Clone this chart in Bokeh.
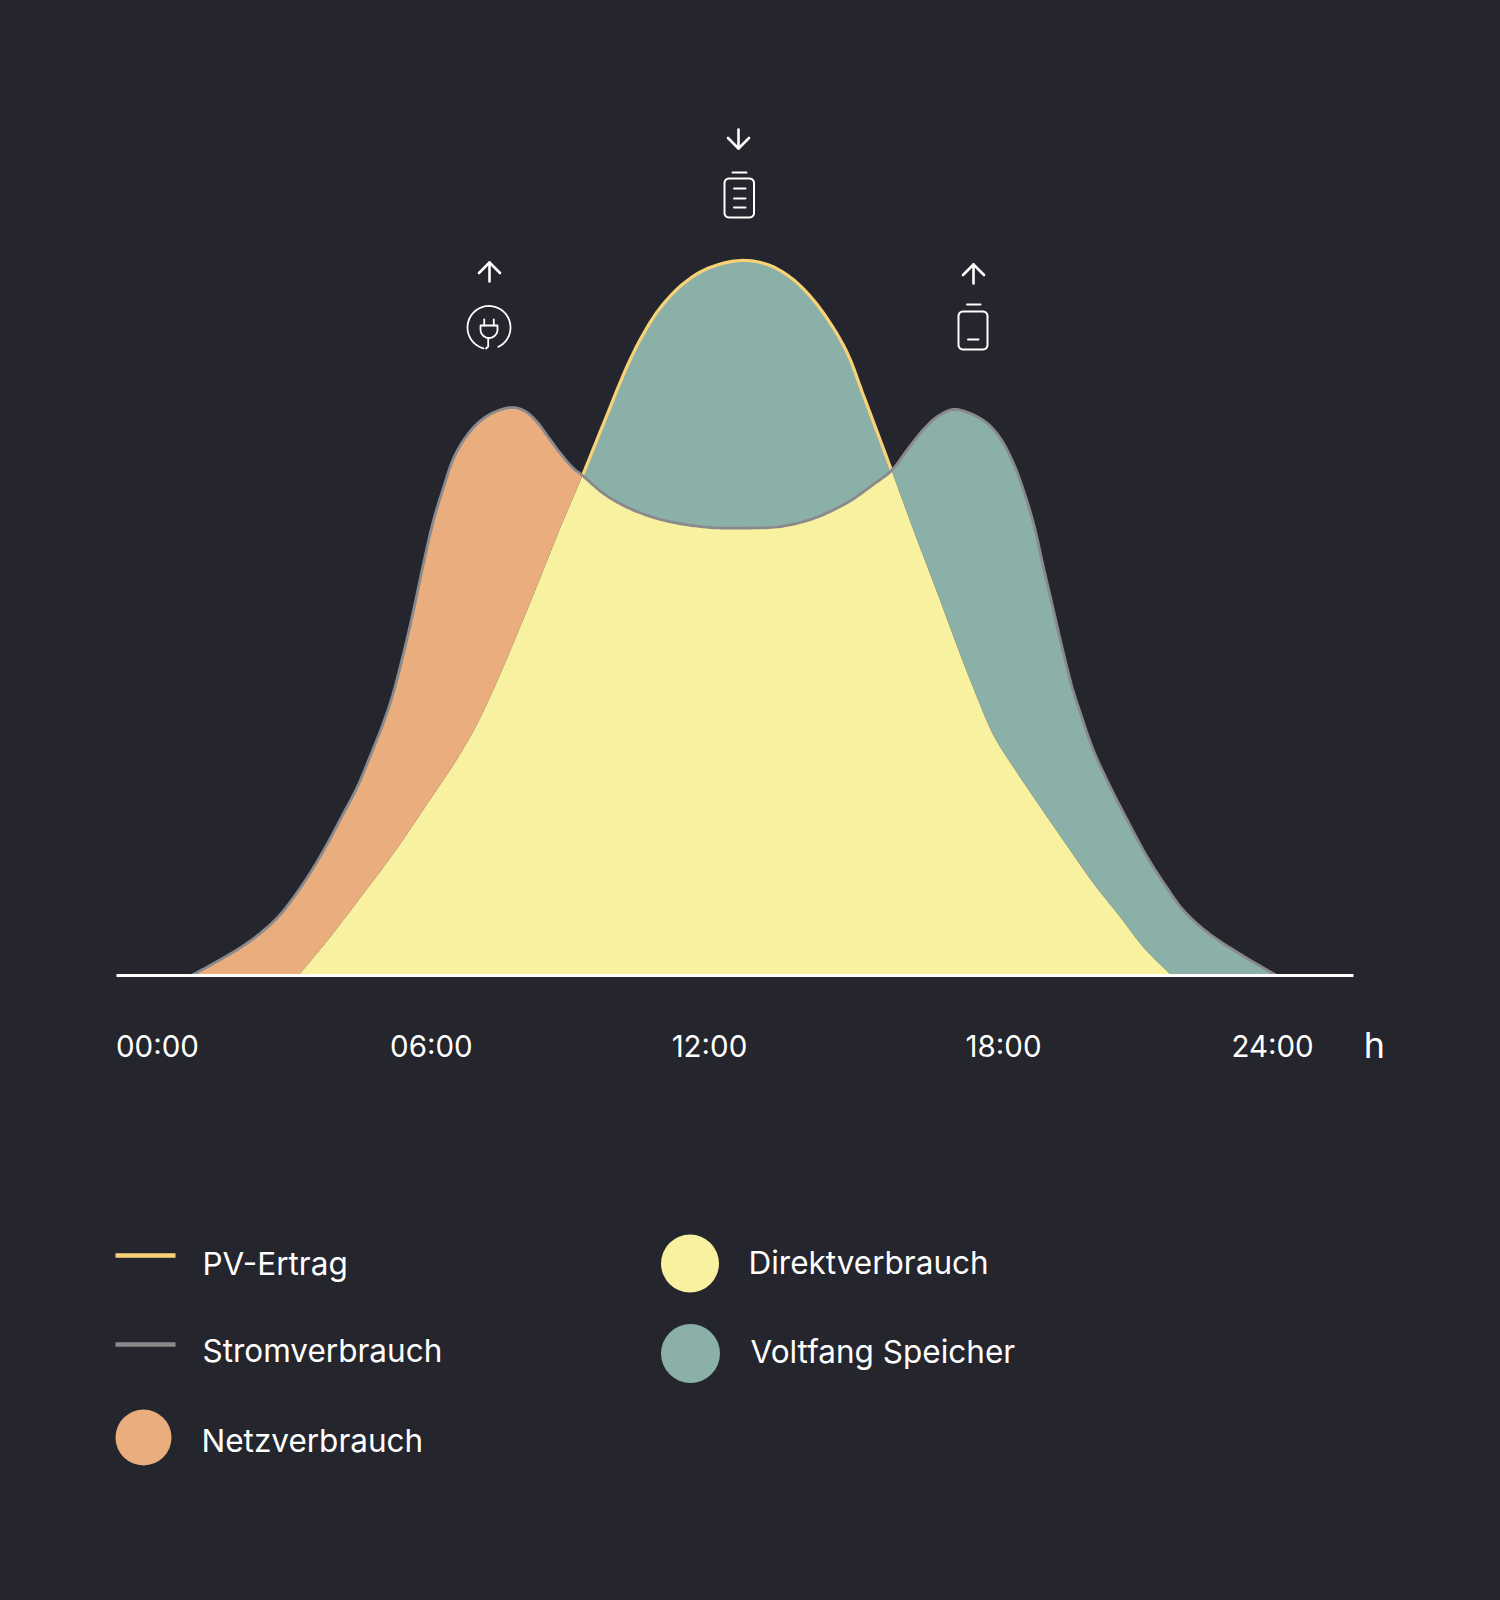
import math
from bokeh.plotting import figure
from bokeh.models import Range1d, FixedTicker
from bokeh.core.properties import value
from bokeh.embed import file_html
from bokeh.resources import INLINE

# ---- data (hours, share of the PV peak in %) ----
load_h = [1.455,1.882,2.348,2.736,3.124,3.434,3.764,4.094,4.404,4.676,4.928,5.180,5.355,5.568,5.762,5.956,6.150,6.345,6.538,6.771,7.024,7.315,7.683,7.936,8.168,8.382,8.614,8.847,9.041,9.449,9.837,10.303,10.807,11.525,12.300,12.883,13.523,14.183,14.687,15.037,15.347,15.657,15.929,16.239,16.569,16.899,17.151,17.404,17.598,17.792,17.986,18.180,18.374,18.548,18.704,18.956,19.286,19.615,20.003,20.391,20.702,21.168,21.750,22.506]
load_v = [0,1.68,3.63,5.59,8.10,10.89,14.39,18.44,22.63,26.40,30.73,35.34,39.10,44.97,50.98,57.54,63.55,68.16,72.21,75.14,77.23,78.63,79.33,78.77,77.23,75.14,72.91,70.95,69.83,67.32,65.64,64.25,63.27,62.57,62.50,62.71,63.83,66.06,68.60,70.53,73.46,76.26,78.07,79.05,78.49,77.09,75.00,71.51,67.74,63.13,56.98,50.98,44.97,40.08,36.59,31.42,26.26,21.65,16.48,12.15,9.08,6.01,3.21,0]
pv_h = [3.531,4.094,4.734,5.374,6.034,6.616,7.004,7.392,7.780,8.226,8.614,9.041,9.449,9.914,10.205,10.555,11.001,11.467,12.107,12.631,13.077,13.465,13.853,14.183,14.493,15.037,15.463,15.929,16.317,16.627,17.016,17.404,17.928,18.451,18.956,19.479,19.926,20.469]
pv_v = [0,4.89,10.89,17.04,24.02,30.31,35.20,41.20,47.77,55.59,62.57,69.83,77.09,85.20,89.39,93.30,96.65,98.74,99.86,99.30,97.49,94.83,91.06,86.87,81.01,70.53,62.15,53.35,45.81,40.08,33.52,29.05,23.46,18.02,12.85,8.10,3.91,0]
cross_left = 9.041
cross_right = 15.037

tick_pos = [0.795, 6.11, 11.505, 17.21, 22.43]
tick_labels = ["00:00", "06:00", "12:00", "18:00", "24:00"]
unit_label = "h"
axis_span = [0, 24]

line_items = ["PV-Ertrag", "Stromverbrauch"]
dot_items = ["Netzverbrauch", "Direktverbrauch", "Voltfang Speicher"]

BG = "#24252d"
ORANGE = "#eaae7e"
YELLOW = "#f8f1a0"
TEAL = "#8ab0a8"
PV_LINE = "#f8d277"
GREY = "#8a8a8c"
WHITE = "#ffffff"
FONT = "Inter"

W, H = 1490, 1590
AX_BOTTOM, AX_LEFT, AX_RIGHT = 975, 116, 1353
PX_PER_V = 7.16
PX_PER_H = (AX_RIGHT - AX_LEFT) / 24


def hx(x):
    return (x - AX_LEFT) / PX_PER_H


def vy(y):
    return (AX_BOTTOM - y) / PX_PER_V


def smooth(xs, ys, n=10):
    """Draw read points as a smooth centripetal Catmull-Rom line shape."""
    P = [(x * PX_PER_H, y * PX_PER_V) for x, y in zip(xs, ys)]
    m = len(P)
    ox, oy, marks = [], [], {}
    for i in range(m - 1):
        marks[xs[i]] = len(ox)
        p1, p2 = P[i], P[i + 1]
        p0 = P[i - 1] if i > 0 else (2 * p1[0] - p2[0], 2 * p1[1] - p2[1])
        p3 = P[i + 2] if i + 2 < m else (2 * p2[0] - p1[0], 2 * p2[1] - p1[1])
        t0 = 0.0
        t1 = t0 + math.dist(p0, p1) ** 0.5
        t2 = t1 + math.dist(p1, p2) ** 0.5
        t3 = t2 + math.dist(p2, p3) ** 0.5
        for k in range(n):
            t = t1 + (t2 - t1) * k / n
            pt = []
            for d in (0, 1):
                a1 = (t1 - t) / (t1 - t0) * p0[d] + (t - t0) / (t1 - t0) * p1[d]
                a2 = (t2 - t) / (t2 - t1) * p1[d] + (t - t1) / (t2 - t1) * p2[d]
                a3 = (t3 - t) / (t3 - t2) * p2[d] + (t - t2) / (t3 - t2) * p3[d]
                b1 = (t2 - t) / (t2 - t0) * a1 + (t - t0) / (t2 - t0) * a2
                b2 = (t3 - t) / (t3 - t1) * a2 + (t - t1) / (t3 - t1) * a3
                pt.append((t2 - t) / (t2 - t1) * b1 + (t - t1) / (t2 - t1) * b2)
            ox.append(pt[0] / PX_PER_H)
            oy.append(max(pt[1] / PX_PER_V, 0))
    marks[xs[-1]] = len(ox)
    ox.append(xs[-1])
    oy.append(ys[-1])
    return ox, oy, marks


lx, ly, lm = smooth(load_h, load_v)
px, py, pm = smooth(pv_h, pv_v)
li, lj = lm[cross_left], lm[cross_right]
pi, pj = pm[cross_left], pm[cross_right]

p = figure(width=W, height=H, output_backend="svg", toolbar_location=None,
           x_range=Range1d(hx(0), hx(W)), y_range=Range1d(vy(H), vy(0)),
           min_border=0, background_fill_color=BG, border_fill_color=BG, outline_line_color=None)
p.grid.visible = False
p.yaxis.visible = False

ax = p.xaxis[0]
ax.fixed_location = 0
ax.ticker = FixedTicker(ticks=tick_pos)
ax.major_label_overrides = dict(zip(tick_pos, tick_labels))
ax.major_tick_line_color = None
ax.minor_tick_line_color = None
ax.axis_line_color = None
ax.major_label_standoff = 46
ax.major_label_text_color = WHITE
ax.major_label_text_font = FONT
ax.major_label_text_font_size = "29.5px"

# areas
p.patch(lx[:li + 1] + px[pi::-1], ly[:li + 1] + py[pi::-1], fill_color=ORANGE, line_color=None)
p.patch(px[pi:pj + 1] + lx[lj:li - 1:-1], py[pi:pj + 1] + ly[lj:li - 1:-1], fill_color=TEAL, line_color=None)
p.patch(lx[lj:] + px[:pj - 1:-1], ly[lj:] + py[:pj - 1:-1], fill_color=TEAL, line_color=None)
p.patch(px[:pi + 1] + lx[li:lj + 1] + px[pj:], py[:pi + 1] + ly[li:lj + 1] + py[pj:], fill_color=YELLOW, line_color=None)

# lines
p.line(px[pi:pj + 1], py[pi:pj + 1], line_color=PV_LINE, line_width=3.2)
p.line(lx, ly, line_color=GREY, line_width=2.8)

# baseline and unit
p.line(axis_span, [0, 0], line_color=WHITE, line_width=3)
p.text([hx(1374)], [vy(1044)], text=[unit_label], text_color=WHITE, text_font=value(FONT),
       text_font_size="36px", text_align="center", text_baseline="middle")


# icons: small line drawings placed on the page
def stroke(points, width=2.0):
    p.line([hx(a) for a, _ in points], [vy(b) for _, b in points], line_color=WHITE,
           line_width=width, line_cap="round", line_join="round")


def rounded(x0, y0, x1, y1, r=4.5):
    pts = []
    for cx, cy, a0 in [(x1 - r, y0 + r, -90), (x1 - r, y1 - r, 0), (x0 + r, y1 - r, 90), (x0 + r, y0 + r, 180)]:
        for k in range(7):
            a = math.radians(a0 + 15 * k)
            pts.append((cx + r * math.cos(a), cy + r * math.sin(a)))
    pts.append(pts[0])
    return pts


def arc(cx, cy, r, a0, a1, n=48):
    return [(cx + r * math.cos(math.radians(a0 + (a1 - a0) * k / n)),
             cy + r * math.sin(math.radians(a0 + (a1 - a0) * k / n))) for k in range(n + 1)]


def arrow(x, top, bottom, up):
    stroke([(x, top), (x, bottom)], 2.6)
    if up:
        stroke([(x - 10.5, top + 10.5), (x, top), (x + 10.5, top + 10.5)], 2.6)
    else:
        stroke([(x - 10.5, bottom - 10.5), (x, bottom), (x + 10.5, bottom - 10.5)], 2.6)


arrow(738, 129, 148, False)
arrow(489, 262, 281, True)
arrow(973, 264, 283, True)

# full battery
stroke([(732, 172), (746, 172)])
stroke(rounded(724, 178, 753.5, 217))
for yy in (188, 198, 207):
    stroke([(733.5, yy), (745, yy)])

# low battery
stroke([(966.5, 304), (980, 304)])
stroke(rounded(958, 311, 987, 349))
stroke([(967.5, 339), (978, 339)])

# plug
stroke(arc(488.5, 327, 21.5, 64, 0, 12) + arc(488.5, 327, 21.5, 360, 105, 60)[1:], 1.8)
stroke([(483.7, 319), (483.7, 325)], 1.8)
stroke([(493.3, 319), (493.3, 325)], 1.8)
stroke([(480, 325), (497, 325), (497, 329)] + arc(488.5, 329, 8.5, 0, 180, 16) + [(480, 325)], 1.8)
stroke([(487.7, 337.5), (487.7, 346), (485.5, 348)], 1.8)

# ---- legend ----
p.line([hx(115), hx(175)], [vy(1255)] * 2, line_color=PV_LINE, line_width=4.5)
p.line([hx(115), hx(175)], [vy(1344)] * 2, line_color=GREY, line_width=4.5)
p.scatter([hx(143)], [vy(1437)], size=56, marker="circle", fill_color=ORANGE, line_color=None)
p.scatter([hx(689.5)], [vy(1263)], size=58, marker="circle", fill_color=YELLOW, line_color=None)
p.scatter([hx(690)], [vy(1353)], size=59, marker="circle", fill_color=TEAL, line_color=None)

labels = line_items + dot_items
p.text([hx(v) for v in (202, 202, 201, 748, 750)], [vy(v) for v in (1263, 1350, 1440, 1262, 1351)],
       text=labels, text_color=WHITE, text_font=value(FONT), text_font_size="31.5px",
       text_baseline="middle", text_align="left")

html = file_html(p, INLINE)
html = html.replace("<head>", "<head><style>html,body{background:%s;}</style>" % BG, 1)
open("out.html", "w").write(html)
